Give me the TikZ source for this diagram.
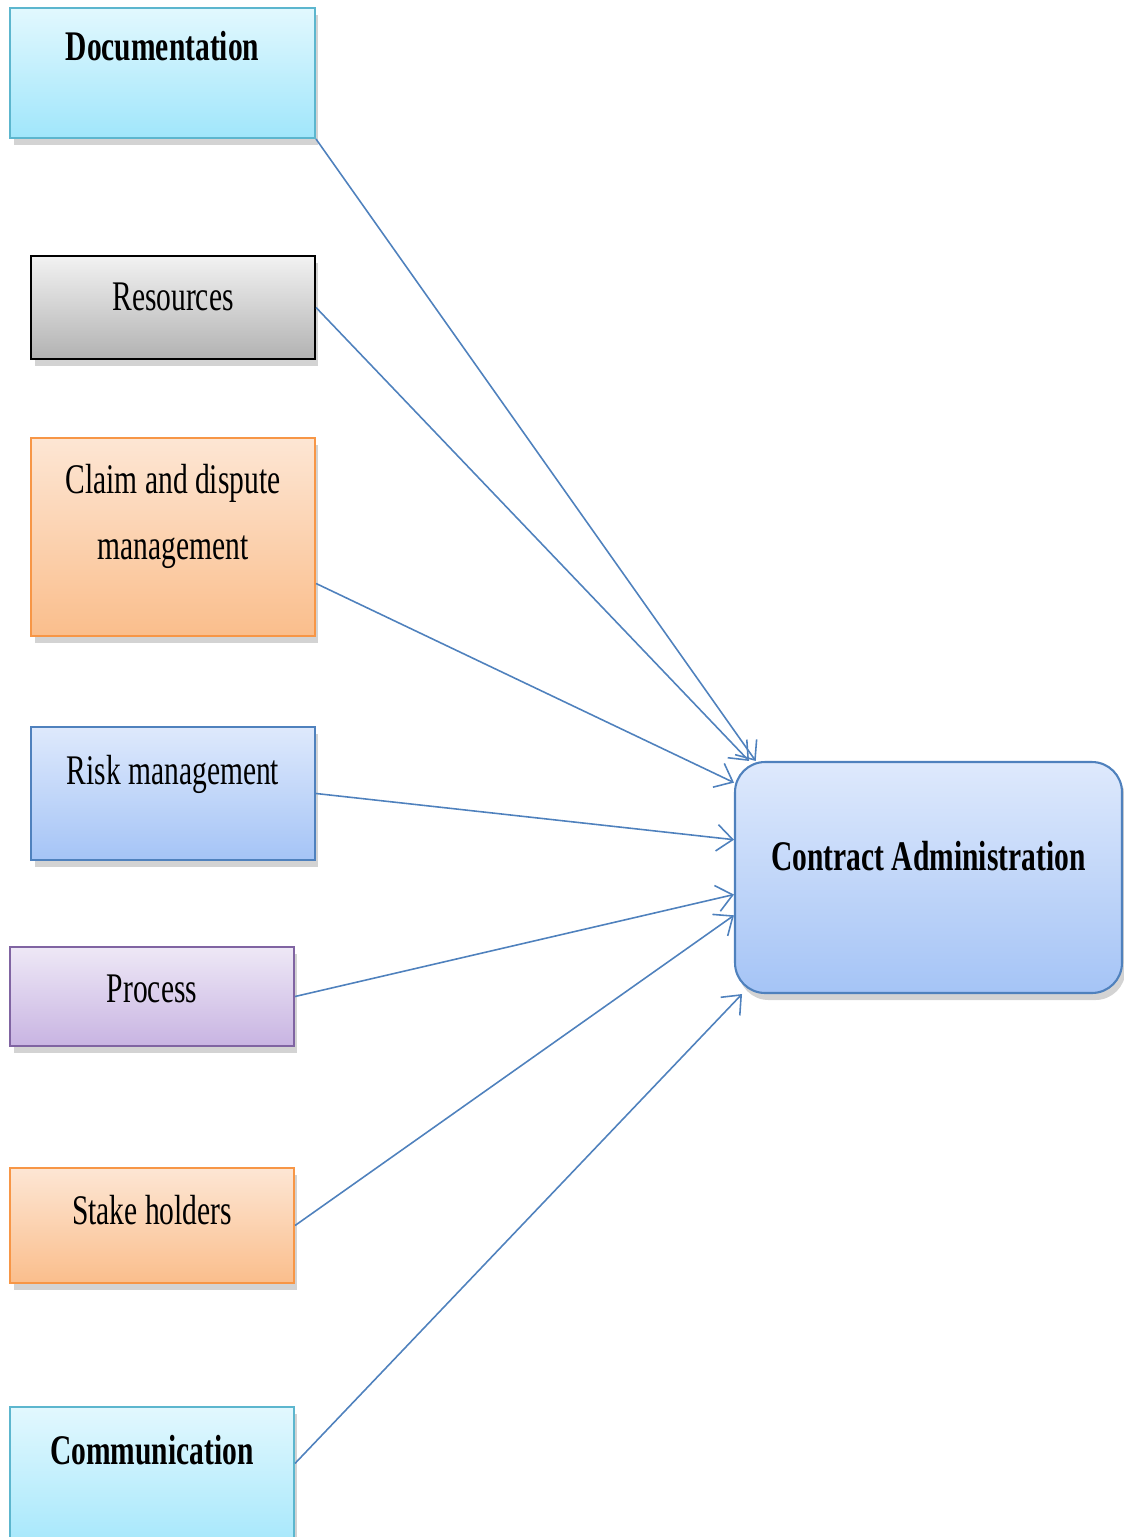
\documentclass[tikz,border=0pt]{standalone}
\usepackage{fontspec}
\setmainfont[FakeStretch=0.7]{Liberation Serif}
\definecolor{cyantop}{RGB}{226, 248, 254}
\definecolor{cyanbot}{RGB}{160, 230, 251}
\definecolor{cyanline}{RGB}{92, 182, 206}
\definecolor{graytop}{RGB}{242, 242, 242}
\definecolor{graybot}{RGB}{178, 178, 178}
\definecolor{orangetop}{RGB}{253, 230, 212}
\definecolor{orangebot}{RGB}{250, 190, 140}
\definecolor{orangeline}{RGB}{247, 150, 70}
\definecolor{bluetop}{RGB}{222, 233, 252}
\definecolor{bluebot}{RGB}{165, 196, 246}
\definecolor{blueline}{RGB}{79, 129, 189}
\definecolor{purpletop}{RGB}{238, 232, 246}
\definecolor{purplebot}{RGB}{200, 180, 226}
\definecolor{purpleline}{RGB}{128, 100, 162}
\usetikzlibrary{arrows.meta, shadows}

\tikzset{
  factor/.style={line width=1.2pt, inner sep=0pt, minimum width=5.68cm,
    drop shadow={shadow xshift=2pt, shadow yshift=-4pt, opacity=0.35}},
  factortext/.style={font=\fontsize{24}{37}\selectfont, inner sep=0pt, anchor=base, align=center},
  feeds/.style={draw=blueline, line width=0.9pt, -{Straight Barb[length=9pt, width=15pt]}}
}

\begin{document}
\begin{tikzpicture}[x=0.02cm, y=-0.02cm]
  \useasboundingbox (0,0) rectangle (1123,1537);

  % Factor boxes on the left
  \node[factor, draw=cyanline, top color=cyantop, bottom color=cyanbot, minimum width=6.1cm, minimum height=2.6cm] (doc) at (162.5, 73) {};
  \node[factortext, font=\fontsize{24}{37}\selectfont\bfseries] (doctxt) at (162.5, 61) {Documentation};

  \node[factor, draw=black, top color=graytop, bottom color=graybot, minimum height=2.06cm] (res) at (173, 307.5) {};
  \node[factortext] (restxt) at (173, 311) {Resources};

  \node[factor, draw=orangeline, top color=orangetop, bottom color=orangebot, minimum height=3.96cm] (claim) at (173, 537) {};
  \node[factortext] (claimtxt) at (173, 559) {Claim and dispute\\management};

  \node[factor, draw=blueline, top color=bluetop, bottom color=bluebot, minimum height=2.66cm] (risk) at (173, 793.5) {};
  \node[factortext] (risktxt) at (173, 784) {Risk management};

  \node[factor, draw=purpleline, top color=purpletop, bottom color=purplebot, minimum height=1.98cm] (proc) at (152, 996.5) {};
  \node[factortext] (proctxt) at (152, 1002) {Process};

  \node[factor, draw=orangeline, top color=orangetop, bottom color=orangebot, minimum height=2.3cm] (stake) at (152, 1225.5) {};
  \node[factortext] (staketxt) at (152, 1224) {Stake holders};

  \node[factor, draw=cyanline, top color=cyantop, bottom color=cyanbot, minimum height=3.06cm] (comm) at (152, 1483.5) {};
  \node[factortext, font=\fontsize{24}{37}\selectfont\bfseries] (commtxt) at (152, 1464) {Communication};

  % Target box
  \node[factor, draw=blueline, top color=bluetop, bottom color=bluebot, rounded corners=0.6cm, minimum width=7.74cm, minimum height=4.62cm] (ca) at (928.5, 877.5) {};
  \node[factortext, font=\fontsize{24}{37}\selectfont\bfseries] (catxt) at (928.5, 870) {Contract Administration};

  % Arrows into the target
  \draw[feeds] (doc.south east) -- (ca.146);
  \draw[feeds] (res.east) -- (ca.147.5);
  \draw[feeds] (claim.-18.7) -- (ca.154.6);
  \draw[feeds] (risk.east) -- (ca.169.1);
  \draw[feeds] (proc.east) -- (ca.185.7);
  \draw[feeds] (stake.east) -- (ca.191.8);
  \draw[feeds] (comm.8.6) -- (ca.212.4);
\end{tikzpicture}
\end{document}
